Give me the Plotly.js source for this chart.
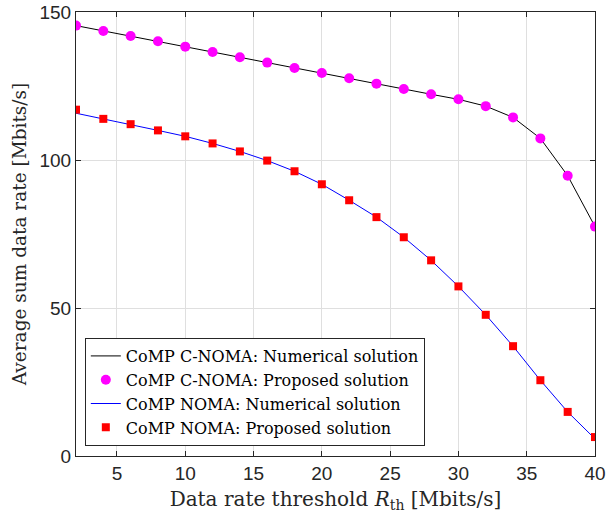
<!DOCTYPE html>
<html>
<head>
<meta charset="utf-8">
<script src="https://cdn.plot.ly/plotly-3.0.1.min.js"></script>
<style>html,body{margin:0;padding:0;background:#fff;}#chart{width:606px;height:514px;}</style>
</head>
<body>
<div id="chart"></div>
<script>
const xVals = [2,4,6,8,10,12,14,16,18,20,22,24,26,28,30,32,34,36,38,40];
const cnomaNumerical = [145.4,143.6,141.9,140.1,138.3,136.5,134.7,132.9,131.1,129.4,127.6,125.8,124.0,122.2,120.5,118.2,114.4,107.3,94.7,77.5];
const cnomaProposed  = [145.4,143.6,141.9,140.1,138.3,136.5,134.7,132.9,131.1,129.4,127.6,125.8,124.0,122.2,120.5,118.2,114.4,107.3,94.7,77.5];
const nomaNumerical  = [115.8,113.9,112.1,110.0,108.0,105.6,102.9,99.8,96.2,91.8,86.4,80.7,73.9,66.1,57.3,47.7,37.1,25.6,14.9,5.8];
const nomaProposed   = [117.0,113.9,112.1,110.0,108.0,105.6,102.9,99.8,96.2,91.8,86.4,80.7,73.9,66.1,57.3,47.7,37.1,25.6,14.9,6.4];
const seriesNames = ["CoMP C-NOMA: Numerical solution","CoMP C-NOMA: Proposed solution","CoMP NOMA: Numerical solution","CoMP NOMA: Proposed solution"];
const xTicks = [5,10,15,20,25,30,35,40];
const yTicks = [0,50,100,150];

const serif = 'DejaVu Serif, serif';
const traces = [
  {x:xVals,y:cnomaNumerical,name:seriesNames[0],mode:'lines',line:{color:'#000000',width:1}},
  {x:xVals,y:cnomaProposed,name:seriesNames[1],mode:'markers',marker:{color:'#ff00ff',size:10,symbol:'circle'}},
  {x:xVals,y:nomaNumerical,name:seriesNames[2],mode:'lines',line:{color:'#0000ff',width:1}},
  {x:xVals,y:nomaProposed,name:seriesNames[3],mode:'markers',marker:{color:'#ff0000',size:8,symbol:'square'}}
];
const axisCommon = {
  showline:true, linecolor:'#262626', linewidth:1, mirror:'ticks',
  ticks:'inside', ticklen:5, tickcolor:'#262626',
  showgrid:true, gridcolor:'#dfdfdf', gridwidth:1, zeroline:false,
  tickfont:{family:'Liberation Sans, Arial, sans-serif',size:19,color:'#262626'}
};
const layout = {
  width:606, height:514,
  margin:{l:76,r:11,t:12,b:58},
  paper_bgcolor:'#ffffff', plot_bgcolor:'#ffffff',
  showlegend:true,
  xaxis:Object.assign({},axisCommon,{range:[2,40],tickvals:xTicks,
    title:{text:'Data rate threshold <i>R</i><sub>th</sub> [Mbits/s]',font:{family:serif,size:20,color:'#262626'},standoff:9}}),
  yaxis:Object.assign({},axisCommon,{range:[0,150],tickvals:yTicks,
    title:{text:'Average sum data rate [Mbits/s]',font:{family:serif,size:18.5,color:'#262626'},standoff:8}}),
  legend:{x:0.017,y:0.0225,xanchor:'left',yanchor:'bottom',bgcolor:'#ffffff',bordercolor:'#262626',borderwidth:1,
    font:{family:serif,size:16,color:'#000000'},itemwidth:30,tracegroupgap:0}
};
Plotly.newPlot('chart',traces,layout,{displayModeBar:false,staticPlot:true});
</script>
</body>
</html>
